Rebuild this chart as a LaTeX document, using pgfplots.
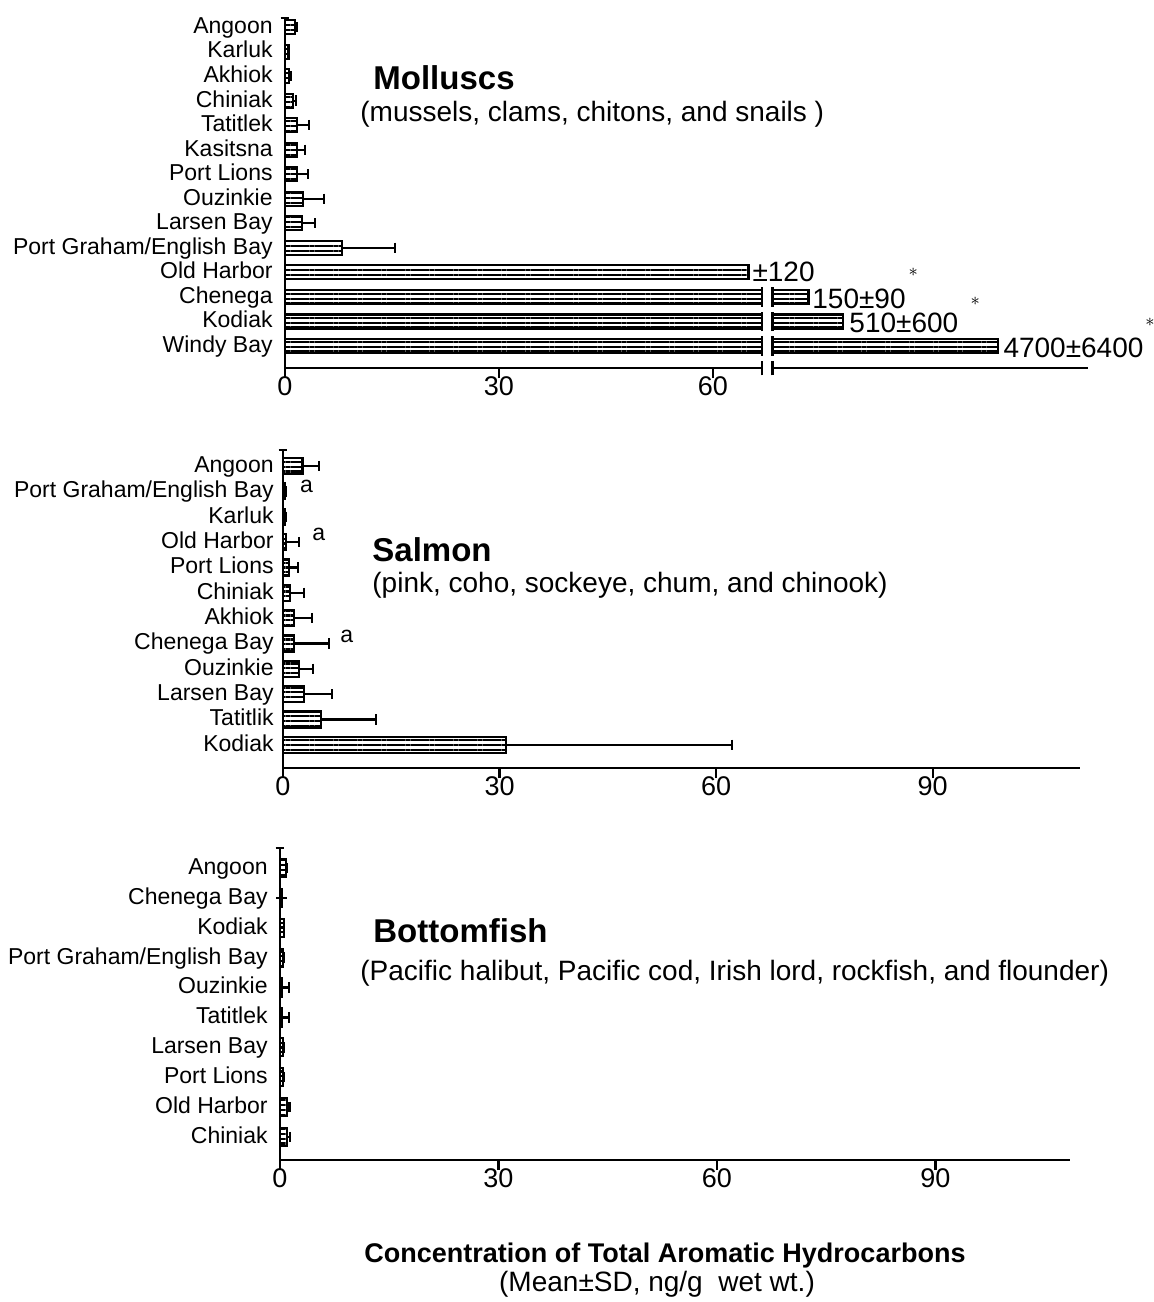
\documentclass[border=0pt]{standalone}
\usepackage{pgfplots}
\pgfplotsset{compat=1.18}
\usepackage{pgfplotstable}
\usepackage{fontspec}
\setmainfont{Liberation Sans}
\usetikzlibrary{patterns.meta}

% Molluscs: sites with small means (drawn with error bars); y = row from bottom
\pgfplotstableread{
y   mean  sd
14  1.4   0.3
13  0.5   0.1
12  0.6   0.2
11  1.1   0.4
10  1.7   1.7
9   1.7   1.1
8   1.7   1.5
7   2.5   3.0
6   2.4   1.8
5   8.0   7.4
}\mollsmall
% Molluscs: large means, shown against the broken axis
\pgfplotstableread{
y   mean  sd
4   65    120
3   150   90
2   510   600
1   4700  6400
}\mollbig
% Salmon
\pgfplotstableread{
y   mean  sd
12  2.7   2.3
11  0.3   0.1
10  0.3   0.1
9   0.4   1.8
8   0.8   1.3
7   1.0   1.9
6   1.5   2.5
5   1.5   4.9
4   2.2   2.0
3   2.9   3.9
2   5.3   7.6
1   30.9  31.3
}\salmon
% Bottomfish
\pgfplotstableread{
y   mean  sd
10  0.8   0.1
9   0.2   0.0
8   0.5   0.1
7   0.4   0.1
6   0.3   0.9
5   0.3   0.9
4   0.4   0.1
3   0.4   0.1
2   1.0   0.3
1   1.0   0.4
}\bottomfish

\tikzset{lbl/.style={anchor=west, inner sep=0pt, font=\fontsize{14}{14}\selectfont}}

\pgfplotsset{
  panel/.style={
    scale only axis, anchor=south west, clip=false,
    axis x line=bottom, axis y line=left,
    axis line style={line width=1.4pt, -},
    xmin=0,
    major tick length=5pt, tick align=outside,
    xtick style={line width=1.2pt, black},
    ytick style={draw=none},
    x tick label style={font=\fontsize{13.5}{14}\selectfont,
      /pgf/number format/assume math mode=true, yshift=4pt},
    y tick label style={font=\fontsize{11.5}{12}\selectfont, inner sep=0pt,
      text height=1.45ex, text depth=0.25ex},
  },
  hbars/.style={xbar, bar width=#1, draw=black, line width=1.1pt,
    fill=white, pattern={Lines[angle=0, distance=2.4pt, line width=1.1pt]},
    pattern color=black},
  errs/.style={error bars/.cd, x dir=plus, x explicit,
    error bar style={line width=1.1pt, black},
    error mark options={mark size=2.6pt, line width=1.1pt, black, rotate=90}},
}

\begin{document}
\begin{tikzpicture}
\useasboundingbox (0pt,0pt) rectangle (577pt,-651pt);

% ---------- Molluscs ----------
\begin{axis}[panel, at={(142.5pt,-184pt)},
  width=401.5pt, height=175pt,
  xmax=112.6, ymin=0.10, ymax=14.37,
  xtick={0,30,60},
  ytick={1,...,14},
  yticklabels={Windy Bay, Kodiak, Chenega, Old Harbor, Port Graham/English Bay,
    Larsen Bay, Ouzinkie, Port Lions, Kasitsna, Tatitlek, Chiniak, Akhiok, Karluk, Angoon},
  y tick label style={xshift=-1pt},
  after end axis/.code={
    \fill[white] (axis cs:66.95,-0.05) rectangle (axis cs:68.35,0.25);
    \foreach \xx in {66.9,68.4}{
      \draw[line width=1.3pt] (axis cs:\xx,-0.2) -- (axis cs:\xx,0.4);
      \foreach \yy in {1,2,3}{
        \draw[line width=1.3pt] (axis cs:\xx,\yy-0.4) -- (axis cs:\xx,\yy+0.4);
      }
    }
    \draw[line width=1.3pt] (axis cs:-0.6,14.37) -- (axis cs:0.6,14.37);
  },
]
\addplot[hbars=7pt, errs] table[x=mean, y=y, x error=sd] \mollsmall;
\addplot[hbars=7pt] table[x expr={min(\thisrow{mean},66.9)}, y=y] \mollbig;
\node[lbl] at (axis cs:65.5,4) {±120};
\node[lbl] at (axis cs:73.9,2.92) {150±90};
\node[lbl] at (axis cs:79.1,1.96) {510±600};
\node[lbl] at (axis cs:100.7,0.92) {4700±6400};
\node[font=\fontsize{9}{9}\selectfont] at (axis cs:88.1,4.0) {$\ast$};
\node[font=\fontsize{9}{9}\selectfont] at (axis cs:96.8,2.8) {$\ast$};
\node[font=\fontsize{9}{9}\selectfont] at (axis cs:121.3,1.98) {$\ast$};
\end{axis}

% second segment of the broken axis (bar length ~ square root of the mean)
\begin{axis}[scale only axis, anchor=south west, at={(142.5pt,-184pt)},
  width=401.5pt, height=175pt, hide axis, clip=false,
  xmin=-68.4, xmax=44.2, ymin=0.10, ymax=14.37]
\addplot[hbars=7pt] table[x expr={0.4724*sqrt(\thisrow{mean})-0.786}, y=y,
  skip coords between index={0}{1}] \mollbig;
\end{axis}

\node[anchor=base west, inner sep=0pt, font=\fontsize{16.5}{18}\selectfont\bfseries] at (186.5pt,-44.5pt) {Molluscs};
\node[anchor=base west, inner sep=0pt, font=\fontsize{14}{16}\selectfont] at (180pt,-60.5pt) {(mussels, clams, chitons, and snails )};

% ---------- Salmon ----------
\begin{axis}[panel, at={(141.5pt,-384pt)},
  width=398.5pt, height=159pt,
  xmax=110.4, ymin=0.09, ymax=12.63,
  xtick={0,30,60,90},
  ytick={1,...,12},
  yticklabels={Kodiak, Tatitlik, Larsen Bay, Ouzinkie, Chenega Bay, Akhiok, Chiniak,
    Port Lions, Old Harbor, Karluk, Port Graham/English Bay, Angoon},
  y tick label style={xshift=0.5pt},
  after end axis/.code={
    \draw[line width=1.3pt] (axis cs:-0.6,12.63) -- (axis cs:0.6,12.63);
  },
]
\addplot[hbars=8pt, errs] table[x=mean, y=y, x error=sd] \salmon;
\node[anchor=base west, inner sep=0pt, font=\fontsize{11.5}{12}\selectfont] at (axis cs:2.3,10.95) {a};
\node[anchor=base west, inner sep=0pt, font=\fontsize{11.5}{12}\selectfont] at (axis cs:4.0,9.05) {a};
\node[anchor=base west, inner sep=0pt, font=\fontsize{11.5}{12}\selectfont] at (axis cs:7.9,5.02) {a};
\end{axis}

\node[anchor=base west, inner sep=0pt, font=\fontsize{16.5}{18}\selectfont\bfseries] at (186pt,-280.5pt) {Salmon};
\node[anchor=base west, inner sep=0pt, font=\fontsize{14}{16}\selectfont] at (186pt,-296pt) {(pink, coho, sockeye, chum, and chinook)};

% ---------- Bottomfish ----------
\begin{axis}[panel, at={(140pt,-580pt)},
  width=395pt, height=156pt,
  xmax=108.5, ymin=0.23, ymax=10.67,
  xtick={0,30,60,90},
  ytick={1,...,10},
  yticklabels={Chiniak, Old Harbor, Port Lions, Larsen Bay, Tatitlek, Ouzinkie,
    Port Graham/English Bay, Kodiak, Chenega Bay, Angoon},
  y tick label style={xshift=-1pt},
  after end axis/.code={
    \draw[line width=1.3pt] (axis cs:-0.6,10.67) -- (axis cs:0.6,10.67);
  },
]
\addplot[hbars=9pt, errs] table[x=mean, y=y, x error=sd] \bottomfish;
\end{axis}

\node[anchor=base west, inner sep=0pt, font=\fontsize{16.5}{18}\selectfont\bfseries] at (186.5pt,-471pt) {Bottomfish};
\node[anchor=base west, inner sep=0pt, font=\fontsize{14}{16}\selectfont] at (180pt,-490pt) {(Pacific halibut, Pacific cod, Irish lord, rockfish, and flounder)};

% ---------- shared axis title ----------
\node[anchor=base, inner sep=0pt, font=\fontsize{13.5}{15}\selectfont\bfseries] at (332.5pt,-631pt) {Concentration of Total Aromatic Hydrocarbons};
\node[anchor=base, inner sep=0pt, font=\fontsize{14}{16}\selectfont] at (328.5pt,-645.5pt) {(Mean±SD, ng/g\ \ wet wt.)};
\end{tikzpicture}
\end{document}
